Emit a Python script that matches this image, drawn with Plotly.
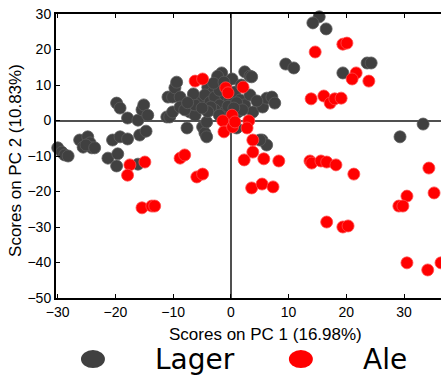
import plotly.graph_objects as go

# PCA scores (PC1, PC2) for each beer sample
lager_pc1 = [-30.0, -29.3, -28.8, -28.2, -26.2, -25.6, -24.8, -24.4, -24.1, -25.1, -23.6,
             -21.3, -19.6, -19.8, -20.5, -19.2, -17.9, -19.8, -19.2, -17.9, -16.1, -15.4,
             -15.1, -15.8, -14.7, -16.1, -10.9, -11.1, -10.1, -9.7, -9.4, -8.8, -10.6,
             -10.1, -8.8, -7.6, -7.1, -6.2, -4.9, -4.5, -4.2, -4.2, -4.0, -3.1, -1.6,
             -2.3, 0.2, 2.4, 3.3, 3.6, -5.4, -4.5, -3.6, -2.8, -1.9, -1.0, -0.2, 0.7,
             1.6, 2.4, 3.3, -2.8, -1.0, 1.2, 3.8, 5.5, 6.2, 7.1, 7.6, 1.0, 5.4, 6.2,
             5.0, 9.5, 10.9, 15.3, 14.2, 16.5, 19.4, 23.6, 24.3, 29.3, 33.3, -14.4,
             -8.0, -6.2, -3.5, -2.0, -0.5, 1.0, 2.0, -4.0, -5.0, -2.0, 0.5, 4.5,
             -3.0, -1.2, 1.8, -6.5, -7.5]
lager_pc2 = [-7.7, -8.9, -9.7, -10.0, -5.5, -7.5, -4.6, -6.3, -7.7, -6.9, -7.7,
             -10.6, -9.4, -12.8, -5.5, -4.6, -5.2, 4.9, 3.5, 0.7, 0.1, 3.0,
             4.4, -4.1, -3.0, -12.3, 6.6, 1.0, 6.6, 9.2, 10.8, 6.6, 1.0,
             2.4, 3.8, -2.1, 2.4, 1.5, -1.8, -3.5, -4.6, -0.4, 9.4, 8.0, 13.4,
             12.5, 11.7, 13.7, 12.5, 12.3, 5.8, 7.2, 5.2, 6.6, 4.4, 7.2, 5.8, 8.0,
             5.8, 4.4, 7.2, 3.0, 2.4, 2.4, 2.4, 3.8, 6.3, 6.6, 4.9, -2.1, -5.5, -6.9,
             -5.5, 15.9, 14.8, 29.2, 27.5, 25.8, 13.4, 16.2, 16.2, -4.6, -1.0, 1.5,
             3.0, 4.4, 3.8, 8.5, 4.0, 5.0, 3.0, 2.5, 3.5, 1.5, 3.5, 5.5,
             10.5, 10.8, 10.0, 7.5, 5.0]

ale_pc1 = [-17.5, -17.9, -14.9, -15.4, -13.7, -13.2, -8.8, -8.0, -5.9, -4.9, -6.2,
           -4.9, -0.9, 2.1, -0.5, 0.2, -1.4, -1.2, 0.3, 0.7, 3.1, 2.8, 3.8, 3.8,
           2.3, 5.7, 8.3, 3.6, 5.4, 7.3, 13.7, 14.0, 15.6, 16.6, 18.2, 21.3, 34.3,
           35.2, 30.5, 29.1, 29.8, 16.6, 19.4, 20.3, 30.5, 34.1, 36.4, 19.4, 20.1,
           14.6, 21.7, 21.0, 23.9, 13.9, 16.1, 17.2, 18.0, 19.1]
ale_pc2 = [-12.5, -15.4, -11.7, -24.6, -24.1, -24.1, -10.6, -9.7, -15.9, -15.1, 11.1,
           11.7, 9.2, 9.4, 7.8, 1.5, -0.1, -3.2, -1.8, -0.4, -0.1, -2.1, -5.5, -8.9,
           -11.1, -10.8, -11.4, -19.0, -17.9, -18.7, -11.4, -12.0, -11.4, -11.7, -12.5, -15.1, -13.4,
           -20.4, -21.3, -24.1, -24.1, -28.6, -30.0, -29.7, -40.1, -42.1, -40.1, 21.5, 21.8,
           19.3, 13.4, 11.7, 11.1, 6.1, 6.9, 4.9, 6.1, 6.3]

x_ticks = [-30, -20, -10, 0, 10, 20, 30]
y_ticks = [-50, -40, -30, -20, -10, 0, 10, 20, 30]

LAGER = "#404040"
ALE = "#ff0000"
FONT = "Liberation Sans, Arial, sans-serif"

fig = go.Figure()
fig.add_trace(go.Scatter(
    x=lager_pc1, y=lager_pc2, mode="markers", name="Lager", cliponaxis=False,
    marker=dict(size=12, color=LAGER, line=dict(color="#5a5a5a", width=0.8)),
))
fig.add_trace(go.Scatter(
    x=ale_pc1, y=ale_pc2, mode="markers", name="Ale", cliponaxis=False,
    marker=dict(size=12, color=ALE, line=dict(color="#ff4a4a", width=0.8)),
))

axis_common = dict(
    ticks="inside", ticklen=4, tickwidth=1, tickcolor="black",
    showgrid=False, showline=True, linecolor="black", linewidth=2,
    zeroline=True, zerolinecolor="#505050", zerolinewidth=2,
    tickfont=dict(family=FONT, size=14, color="black"),
)

fig.update_xaxes(range=[-30.3, 36.4], tickvals=x_ticks, mirror="ticks", **axis_common)
fig.update_yaxes(range=[-50, 30], tickvals=y_ticks, mirror=False, **axis_common)

annotations = [
    dict(text="Scores on PC 1 (16.98%)", xref="paper", yref="paper", x=0.543, y=-0.13,
         showarrow=False, xanchor="center", yanchor="middle",
         font=dict(family=FONT, size=17, color="black")),
    dict(text="Scores on PC 2 (10.83%)", xref="paper", yref="paper", x=-0.104, y=0.486,
         showarrow=False, xanchor="center", yanchor="middle", textangle=-90,
         font=dict(family=FONT, size=17, color="black")),
    dict(text="Lager", xref="paper", yref="paper", x=0.361, y=-0.215,
         showarrow=False, xanchor="center", yanchor="middle",
         font=dict(family="DejaVu Sans", size=28, color="black")),
    dict(text="Ale", xref="paper", yref="paper", x=0.855, y=-0.215,
         showarrow=False, xanchor="center", yanchor="middle",
         font=dict(family="DejaVu Sans", size=28, color="black")),
]

shapes = [
    dict(type="circle", xref="paper", yref="paper", xsizemode="pixel", ysizemode="pixel",
         xanchor=0.096, yanchor=-0.215, x0=-12, x1=12, y0=-9, y1=9,
         fillcolor=LAGER, line=dict(width=0)),
    dict(type="circle", xref="paper", yref="paper", xsizemode="pixel", ysizemode="pixel",
         xanchor=0.636, yanchor=-0.215, x0=-12, x1=12, y0=-9, y1=9,
         fillcolor=ALE, line=dict(width=0)),
]

fig.update_layout(
    width=441, height=377,
    margin=dict(l=56, r=0, t=14, b=79),
    paper_bgcolor="white", plot_bgcolor="white",
    showlegend=False,
    annotations=annotations,
    shapes=shapes,
)

fig.write_html("out.html")
